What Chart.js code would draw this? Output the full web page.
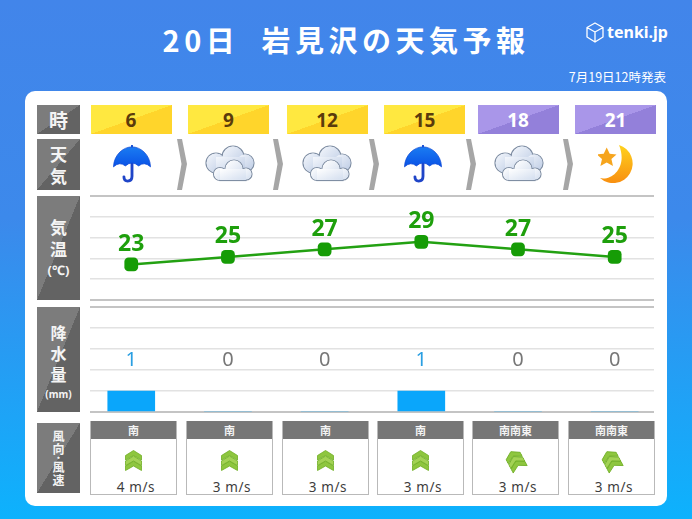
<!DOCTYPE html>
<html lang="ja">
<head>
<meta charset="utf-8">
<title>岩見沢の天気予報</title>
<script src="https://cdn.jsdelivr.net/npm/chart.js@4"></script>
<style>
  html, body { margin: 0; padding: 0; }
  #page {
    position: relative; width: 692px; height: 519px; overflow: hidden;
    background: linear-gradient(to bottom, #4285ea 0%, #3c89eb 42%, #0db2fd 100%);
    font-family: "Noto Sans CJK JP", "Noto Sans", sans-serif;
  }
  #page > * { position: absolute; }
  .panel { left: 25px; top: 91px; width: 642px; height: 415px; background: #fff; border-radius: 10px; }
  .title { left: 0; top: 16px; width: 692px; text-align: center; color: #fff; font-size: 29px; font-weight: 700; letter-spacing: 4.500px; line-height: 46px; white-space: pre; }
  .logo { left: 607px; top: 20px; color: #fff; font: 700 16px/24px "Noto Sans", sans-serif; }
  .issued { left: 540px; width: 126px; top: 68px; text-align: right; color: #fff; font-size: 12.500px; line-height: 18px; white-space: nowrap; }
  .side {
    left: 37px; width: 43px; color: #f4f4f4; font-weight: 700; text-align: center;
    background: linear-gradient(to bottom right, #7c7c7c 50%, #636363 50%);
    display: flex; flex-direction: column; justify-content: center; align-items: center;
  }
  .side span { display: block; }
  .hour {
    top: 105px; height: 29px; width: 81px; text-align: center;
    font: 700 19px/30px "Noto Sans", sans-serif;
  }
  .hour.day { color: #5b3b0c; background: linear-gradient(to bottom right, #ffe840 50%, #ffd52b 50%); }
  .hour.night { color: #fff; background: linear-gradient(to bottom right, #a996e9 50%, #9380da 50%); }
  .wind { top: 421px; height: 73px; width: 85px; border: 1px solid #b9b9b9; border-top: 0; box-sizing: content-box; background: #fff; }
  .wind .dir { background: #777; color: #f4f4f4; height: 18px; text-align: center; font-size: 11px; font-weight: 700; line-height: 18px; }
  .wind .speed { position: absolute; left: 5px; right: 0; top: 58px; text-align: center; color: #3d3d3d; font: 13.500px/16px "Noto Sans", sans-serif; letter-spacing: 0.600px; }
  .wind svg { position: absolute; left: 34px; top: 29px; }
  canvas { display: block; }
</style>
</head>
<body>
<svg width="0" height="0" style="position:absolute">
  <defs>
    <linearGradient id="canopy" x1="0" y1="0" x2="0" y2="1"><stop offset="0" stop-color="#1a7cf2"/><stop offset="1" stop-color="#0a52e6"/></linearGradient>
    <linearGradient id="cloudBack" x1="0" y1="0" x2="1" y2="1"><stop offset="0" stop-color="#f4f7fc"/><stop offset="1" stop-color="#bccbe4"/></linearGradient>
    <linearGradient id="cloudFront" x1="0" y1="0" x2="1" y2="1"><stop offset="0" stop-color="#ffffff"/><stop offset="1" stop-color="#d3deef"/></linearGradient>
    <linearGradient id="moon" x1="0" y1="0" x2="0" y2="1"><stop offset="0" stop-color="#ffd21e"/><stop offset="1" stop-color="#f88f10"/></linearGradient>
    <symbol id="icon-rain" viewBox="0 0 40 40">
      <path d="M20 0 V4" stroke="#1b4fd0" stroke-width="2"/>
      <path d="M20 20 V33 Q20 38 15.500 38 Q11.500 38 11.500 33.500" fill="none" stroke="#1f45c8" stroke-width="3" stroke-linecap="round"/>
      <path d="M0.500 23 C1 10 11 2 20 2 C29 2 39 10 39.500 23 Q33 17 27 22 Q20 16 13 22 Q7 17 0.500 23Z" fill="url(#canopy)" stroke="#0a47d6" stroke-width="0.800"/>
    </symbol>
    <symbol id="icon-cloud" viewBox="0 0 50 38">
      <g stroke="#7f8ea3" stroke-width="1.200" fill="url(#cloudBack)">
        <circle cx="11" cy="18" r="10"/><circle cx="28" cy="12" r="11"/><circle cx="40" cy="18" r="9"/>
      </g>
      <g fill="url(#cloudBack)"><circle cx="11" cy="18" r="9.400"/><circle cx="28" cy="12" r="10.400"/><circle cx="40" cy="18" r="8.400"/><rect x="11" y="12" width="29" height="15"/></g>
      <g stroke="#7f8ea3" stroke-width="1.200" fill="#fff">
        <circle cx="15" cy="29" r="6.500"/><circle cx="29" cy="24" r="9"/><circle cx="41" cy="29" r="6"/><rect x="15" y="28" width="26" height="7.500"/>
      </g>
      <g fill="url(#cloudFront)"><circle cx="15" cy="29" r="5.900"/><circle cx="29" cy="24" r="8.400"/><circle cx="41" cy="29" r="5.400"/><rect x="15" y="24" width="26" height="10.900"/></g>
    </symbol>
    <symbol id="icon-moon" viewBox="0 0 38 38">
      <path d="M21 0 A19.500 19.500 0 1 1 2 33 C14 36 30 22 21 0Z" fill="url(#moon)"/>
      <path d="M8.700 2.500 L11.700 8.700 L18.500 9.500 L13.400 14 L15 21 L8.700 17.500 L2.400 21 L4 14 L-1.100 9.500 L5.700 8.700Z" fill="#f6a51e"/>
    </symbol>
    <symbol id="icon-arrow" viewBox="0 0 17 21">
      <g fill="#8ec63f" stroke="#6fae25" stroke-width="0.800">
        <path d="M8.500 11 L16.500 16 V20.500 L8.500 16 L0.500 20.500 V16Z"/>
        <path d="M8.500 6 L16.500 11 V15.500 L8.500 11 L0.500 15.500 V11Z" fill="#a3d255"/>
        <path d="M8.500 0.500 L16.500 5.500 V10 L8.500 5.500 L0.500 10 V5.500Z"/>
      </g>
    </symbol>
  </defs>
</svg>
<div id="page">
  <div class="panel"></div>
  <div class="title">20日  岩見沢の天気予報</div>
  <svg style="left:586px;top:22px" width="18" height="21" viewBox="0 0 18 21">
    <path d="M9 1 L17 5.500 V15 L9 20 L1 15 V5.500Z M1 5.500 L9 10 L17 5.500 M9 10 V20" fill="none" stroke="#fff" stroke-width="1.300" stroke-linejoin="round"/>
  </svg>
  <div class="logo">tenki.jp</div>
  <div class="issued">7月19日12時発表</div>
</div>

<script>
// values
const hours = [6, 9, 12, 15, 18, 21];
const weather = ['rain', 'cloud', 'cloud', 'rain', 'cloud', 'moon'];
const temps = [23, 25, 27, 29, 27, 25];
const precip = [1, 0, 0, 1, 0, 0];
const windDirs = ['南', '南', '南', '南', '南南東', '南南東'];
const windSpeeds = [4, 3, 3, 3, 3, 3];
const nightFrom = 18;

// page layout, the columns are not evenly spaced in the original
const hourLefts = [90.500, 188, 286.500, 384, 477.500, 575];
const iconLefts = [113, 205, 302, 404, 494, 598];
const chevronLefts = [177, 273, 369, 466, 563];
const windLefts = [90, 186, 282, 377, 472, 568];
const windAngles = { '南': 0, '南南東': -28 };

const page = document.getElementById('page');

function addEl(className, left, top, width, height, html) {
  const el = document.createElement('div');
  el.className = className;
  el.style.left = left + 'px';
  if (top != null) el.style.top = top + 'px';
  if (width != null) el.style.width = width + 'px';
  if (height != null) el.style.height = height + 'px';
  el.innerHTML = html;
  page.appendChild(el);
  return el;
}

// grey row labels on the left
function sideLabel(top, height, html) {
  addEl('side', 37, top, null, height, html);
}
sideLabel(105, 29, '<span style="font-size:19px;line-height:28px">時</span>');
sideLabel(139, 51, '<span style="font-size:17px;line-height:22px">天</span><span style="font-size:17px;line-height:22px">気</span>');
sideLabel(196, 104, '<span style="font-size:17px;line-height:22px">気</span><span style="font-size:17px;line-height:22px">温</span><span style="font:700 13px/20px \'Noto Sans\'">(℃)</span>');
sideLabel(307, 105, '<span style="font-size:16px;line-height:21px;margin-top:6px">降</span><span style="font-size:16px;line-height:21px">水</span><span style="font-size:16px;line-height:21px">量</span><span style="font:700 10px/18px \'Noto Sans\'">(mm)</span>');
sideLabel(423, 70, '<span style="font-size:12px;line-height:12.500px">風</span><span style="font-size:12px;line-height:12.500px">向</span><span style="font-size:9px;line-height:6px">・</span><span style="font-size:12px;line-height:12.500px">風</span><span style="font-size:12px;line-height:12.500px">速</span>');

hours.forEach((hour, i) => {
  addEl('hour ' + (hour >= nightFrom ? 'night' : 'day'), hourLefts[i], null, null, null, hour);

  // weather symbol
  const size = weather[i] == 'cloud' ? [50, 38] : [38, 38];
  const icon = document.createElementNS('http://www.w3.org/2000/svg', 'svg');
  icon.setAttribute('width', size[0]);
  icon.setAttribute('height', size[1]);
  icon.style.left = iconLefts[i] + 'px';
  icon.style.top = '145px';
  icon.innerHTML = '<use href="#icon-' + weather[i] + '"/>';
  page.appendChild(icon);

  // wind card
  const angle = windAngles[windDirs[i]];
  addEl('wind', windLefts[i], null, null, null,
    '<div class="dir">' + windDirs[i] + '</div>' +
    '<svg width="17" height="21" style="transform:rotate(' + angle + 'deg)"><use href="#icon-arrow"/></svg>' +
    '<div class="speed">' + windSpeeds[i] + ' m/s</div>');
});

// arrows between the weather symbols
chevronLefts.forEach((left) => {
  const arrow = document.createElementNS('http://www.w3.org/2000/svg', 'svg');
  arrow.setAttribute('width', 10);
  arrow.setAttribute('height', 51);
  arrow.style.left = left + 'px';
  arrow.style.top = '139px';
  arrow.innerHTML = '<path d="M0 0 H5 L10 25 L5 51 H0 L4.500 25Z" fill="#a6a6a6"/>';
  page.appendChild(arrow);
});

function addCanvas(left, top, width, height) {
  const canvas = document.createElement('canvas');
  canvas.width = width;
  canvas.height = height;
  canvas.style.left = left + 'px';
  canvas.style.top = top + 'px';
  canvas.style.width = width + 'px';
  canvas.style.height = height + 'px';
  page.appendChild(canvas);
  return canvas;
}

const xAxis = { type: 'linear', display: false, offset: false, min: 4.720, max: 22.220 };

function yAxis(min, max, step) {
  return {
    min: min,
    max: max,
    ticks: { display: false, stepSize: step },
    border: { display: false },
    grid: {
      drawTicks: false,
      color: (c) => (c.index == 0 || c.index == 5 ? '#c4c4c4' : '#e2e2e2'),
      lineWidth: (c) => (c.index == 0 || c.index == 5 ? 2 : 1.500),
    },
  };
}

const sharedOptions = {
  responsive: false,
  animation: false,
  layout: { autoPadding: false, padding: { left: 2, right: 2, top: 4, bottom: 4 } },
  plugins: { legend: { display: false }, tooltip: { enabled: false } },
};

// value labels above the temperature points
const tempLabels = {
  id: 'tempLabels',
  afterDatasetsDraw(chart) {
    const ctx = chart.ctx;
    const points = chart.getDatasetMeta(0).data;
    ctx.save();
    ctx.font = '700 23px "Noto Sans", sans-serif';
    ctx.fillStyle = '#1e9f0c';
    ctx.textAlign = 'center';
    ctx.textBaseline = 'middle';
    points.forEach((pt, i) => ctx.fillText(temps[i], pt.x, pt.y - 20));
    ctx.restore();
  },
};

new Chart(addCanvas(88, 192, 568, 112), {
  type: 'line',
  data: {
    datasets: [{
      data: hours.map((h, i) => ({ x: h, y: temps[i] })),
      borderColor: '#23a112',
      borderWidth: 2.500,
      backgroundColor: '#169c06',
      pointStyle: 'rectRounded',
      pointRadius: 8,
      pointBorderWidth: 0,
      tension: 0,
    }],
  },
  options: { ...sharedOptions, scales: { x: xAxis, y: yAxis(13.600, 41.100, 5.500) } },
  plugins: [tempLabels],
});

// precipitation numbers sit on one row whatever the amount
const precipLabels = {
  id: 'precipLabels',
  afterDatasetsDraw(chart) {
    const ctx = chart.ctx;
    ctx.save();
    ctx.font = '400 20px "Noto Sans", sans-serif';
    ctx.textAlign = 'center';
    ctx.textBaseline = 'middle';
    precip.forEach((v, i) => {
      ctx.fillStyle = v > 0 ? '#2a9fe2' : '#777777';
      ctx.fillText(v, chart.scales.x.getPixelForValue(hours[i]), chart.scales.y.getPixelForValue(2.450));
    });
    ctx.restore();
  },
};

new Chart(addCanvas(88, 303, 568, 113), {
  type: 'bar',
  data: {
    datasets: [{
      data: hours.map((h, i) => ({ x: h, y: precip[i] })),
      backgroundColor: '#0aa6fb',
      barThickness: 47,
    }],
  },
  options: { ...sharedOptions, scales: { x: xAxis, y: yAxis(0, 5, 1) } },
  plugins: [precipLabels],
});
</script>
</body>
</html>
